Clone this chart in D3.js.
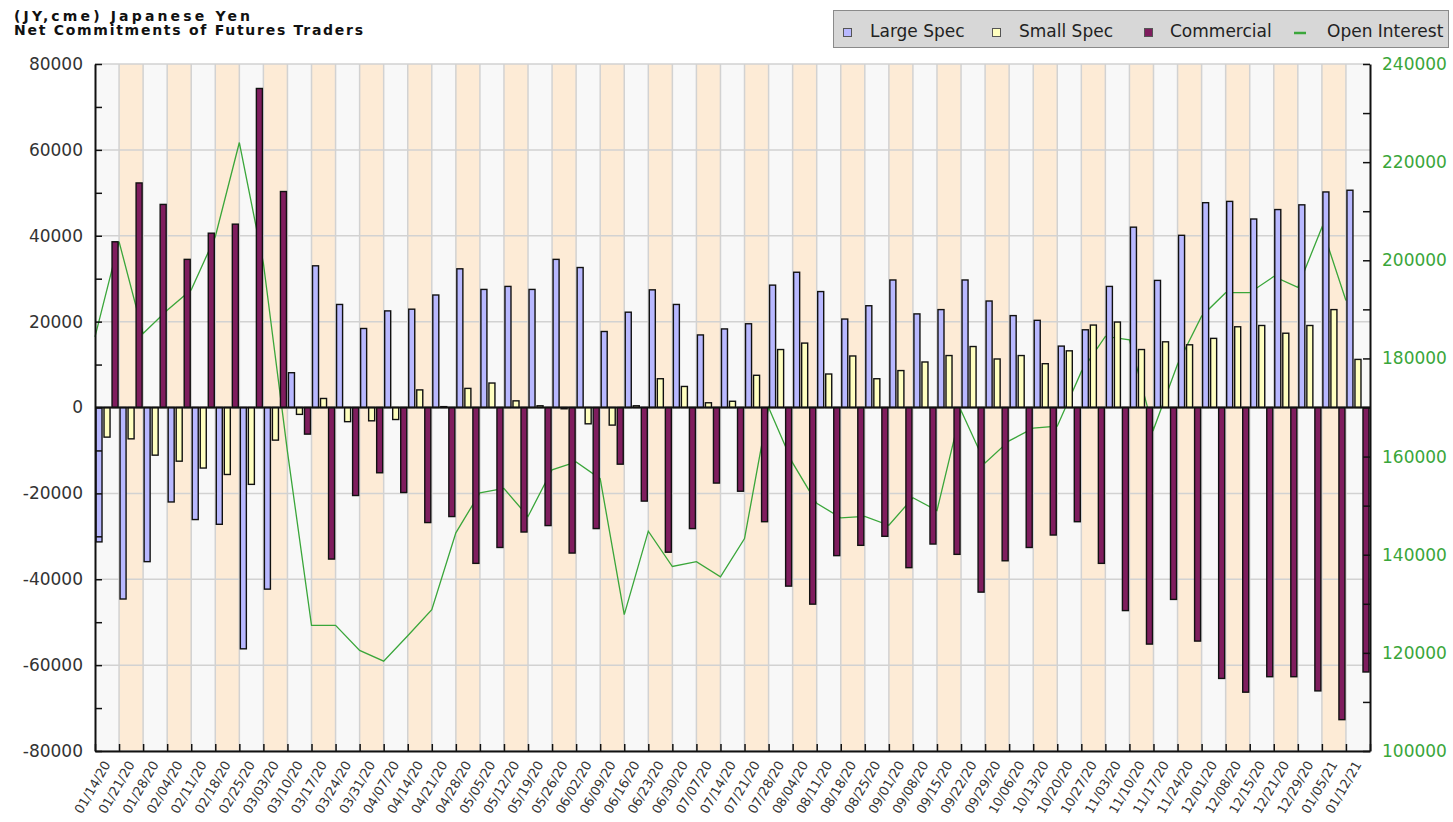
<!DOCTYPE html>
<html>
<head>
<meta charset="utf-8">
<script src="https://cdn.jsdelivr.net/npm/d3@7"></script>
<style>
  body { margin: 0; background: #fff; }
  svg { display: block; font-family: "DejaVu Sans", sans-serif; }
</style>
</head>
<body>
<svg id="chart" width="1453" height="822"></svg>
<script>
// weekly report dates
const dates = ["01/14/20","01/21/20","01/28/20","02/04/20","02/11/20","02/18/20","02/25/20","03/03/20","03/10/20","03/17/20",
  "03/24/20","03/31/20","04/07/20","04/14/20","04/21/20","04/28/20","05/05/20","05/12/20","05/19/20","05/26/20",
  "06/02/20","06/09/20","06/16/20","06/23/20","06/30/20","07/07/20","07/14/20","07/21/20","07/28/20","08/04/20",
  "08/11/20","08/18/20","08/25/20","09/01/20","09/08/20","09/15/20","09/22/20","09/29/20","10/06/20","10/13/20",
  "10/20/20","10/27/20","11/03/20","11/10/20","11/17/20","11/24/20","12/01/20","12/08/20","12/15/20","12/21/20",
  "12/29/20","01/05/21","01/12/21"];

const largeSpec = [-31300,-44600,-35900,-22000,-26100,-27200,-56200,-42300,8100,33000,
  24000,18400,22500,22900,26200,32300,27500,28200,27500,34500,
  32600,17700,22200,27400,24000,16900,18300,19500,28500,31500,
  27000,20600,23700,29700,21800,22800,29700,24800,21400,20300,
  14300,18100,28200,42000,29600,40100,47700,48000,43900,46100,
  47200,50200,50600];

const smallSpec = [-6900,-7300,-11100,-12500,-14100,-15600,-17900,-7600,-1600,2100,
  -3300,-3100,-2800,4100,200,4450,5700,1550,400,-300,
  -3800,-4100,400,6700,4900,1100,1450,7500,13500,15000,
  7800,12000,6700,8600,10600,12100,14200,11300,12100,10200,
  13200,19200,19900,13500,15300,14600,16100,18800,19100,17300,
  19100,22800,11200];

const commercial = [38600,52300,47300,34500,40600,42700,74300,50300,-6200,-35300,
  -20500,-15200,-19800,-26800,-25400,-36300,-32600,-29000,-27500,-33900,
  -28200,-13200,-21800,-33700,-28200,-17600,-19500,-26600,-41600,-45800,
  -34500,-32100,-30000,-37300,-31800,-34200,-43000,-35700,-32600,-29700,
  -26600,-36300,-47300,-55100,-44700,-54400,-63100,-66300,-62700,-62700,
  -66000,-72700,-61600];

const openInterest = [184400,203800,185100,189800,194000,204800,224000,199400,161000,125600,
  125600,120500,118300,123500,128800,144450,152600,153500,147800,157300,
  158900,155500,127800,144800,137600,138600,135500,143300,170000,158700,
  150500,147500,147800,146000,151600,149000,169400,158700,163200,165800,
  166200,177300,184500,183800,165500,178800,188600,193400,193400,196700,
  194500,206700,191800];

const seriesNames = ["Large Spec", "Small Spec", "Commercial"];
const seriesColors = ["#b8b8ff", "#ffffc0", "#7f1d5e"];
const lineColor = "#3aa63a";

const m = { left: 95, right: 1370, top: 64, bottom: 751 };
const svg = d3.select("#chart");

const x = d3.scaleBand().domain(dates).range([m.left, m.right]).paddingInner(0).paddingOuter(0);
const xSub = d3.scaleBand().domain(seriesNames).range([1, x.bandwidth() - 1]).paddingInner(0.25).paddingOuter(0);
const xIdx = d3.scaleLinear().domain([0, dates.length]).range([m.left, m.right]);
const yL = d3.scaleLinear().domain([-80000, 80000]).range([m.bottom, m.top]);
const yR = d3.scaleLinear().domain([100000, 240000]).range([m.bottom, m.top]);

// alternating column shading
svg.append("g").selectAll("rect").data(dates).join("rect")
  .attr("x", d => x(d)).attr("y", m.top)
  .attr("width", x.bandwidth()).attr("height", m.bottom - m.top)
  .attr("fill", (d, i) => i % 2 ? "#fdebd6" : "#f8f8f8");

// grid
const grid = svg.append("g").attr("stroke", "#d2d2d2").attr("stroke-width", 1.5);
grid.selectAll("line.h").data(d3.range(-80000, 80001, 20000)).join("line").attr("class", "h")
  .attr("x1", m.left).attr("x2", m.right).attr("y1", d => yL(d)).attr("y2", d => yL(d));
grid.selectAll("line.v").data(d3.range(1, dates.length)).join("line").attr("class", "v")
  .attr("x1", d => xIdx(d)).attr("x2", d => xIdx(d)).attr("y1", m.top).attr("y2", m.bottom);

// open interest line (sits behind the bars)
const line = d3.line().x((d, i) => x(dates[i])).y(d => yR(d));
svg.append("path").datum(openInterest)
  .attr("d", line).attr("fill", "none").attr("stroke", lineColor).attr("stroke-width", 1.3);

// bars
const rows = dates.map((d, i) => ({ date: d, vals: [largeSpec[i], smallSpec[i], commercial[i]] }));
const groups = svg.append("g").selectAll("g").data(rows).join("g")
  .attr("transform", d => `translate(${x(d.date)},0)`);
groups.selectAll("rect").data(d => d.vals.map((v, k) => ({ k, v }))).join("rect")
  .attr("x", d => xSub(seriesNames[d.k]))
  .attr("width", xSub.bandwidth())
  .attr("y", d => yL(Math.max(0, d.v)))
  .attr("height", d => Math.abs(yL(d.v) - yL(0)))
  .attr("fill", d => seriesColors[d.k])
  .attr("stroke", "#111").attr("stroke-width", 1.4);

// zero line
svg.append("line").attr("x1", m.left).attr("x2", m.right).attr("y1", yL(0)).attr("y2", yL(0))
  .attr("stroke", "#111").attr("stroke-width", 2);

// left axis
const leftAxis = svg.append("g").attr("transform", `translate(${m.left},0)`)
  .call(d3.axisLeft(yL).tickValues(d3.range(-80000, 80001, 10000))
    .tickSizeInner(-7).tickSizeOuter(0).tickPadding(12)
    .tickFormat(d => d % 20000 === 0 ? d : ""));
leftAxis.selectAll("text").attr("font-size", 17).attr("fill", "#333").attr("font-family", "DejaVu Sans");

// right axis
const rightAxis = svg.append("g").attr("transform", `translate(${m.right},0)`)
  .call(d3.axisRight(yR).tickValues(d3.range(100000, 240001, 10000))
    .tickSizeInner(-7).tickSizeOuter(0).tickPadding(12)
    .tickFormat(d => d % 20000 === 0 ? d : ""));
rightAxis.selectAll("text").attr("font-size", 17).attr("fill", lineColor).attr("font-family", "DejaVu Sans");

// bottom axis, ticks on column edges
const bottomAxis = svg.append("g").attr("transform", `translate(0,${m.bottom})`)
  .call(d3.axisBottom(xIdx).tickValues(d3.range(0, dates.length + 1))
    .tickSizeInner(-7).tickSizeOuter(0).tickFormat(""));

[leftAxis, rightAxis, bottomAxis].forEach(g => {
  g.select(".domain").attr("stroke", "#111").attr("stroke-width", 2);
  g.selectAll(".tick line").attr("stroke", "#111").attr("stroke-width", 1.5);
});

// date labels
svg.append("g").selectAll("text").data(dates).join("text")
  .attr("transform", d => `translate(${x(d) + x.bandwidth() / 2},${m.bottom + 11}) rotate(-60)`)
  .attr("text-anchor", "end").attr("dy", "0.35em")
  .attr("font-size", 13).attr("fill", "#333")
  .text(d => d);

// title
const title = svg.append("g").attr("font-weight", "bold").attr("font-size", 14).attr("fill", "#111");
title.append("text").attr("x", 14).attr("y", 21).attr("textLength", 236).attr("lengthAdjust", "spacing")
  .text("(JY,cme) Japanese Yen");
title.append("text").attr("x", 14).attr("y", 35).attr("textLength", 349).attr("lengthAdjust", "spacing")
  .text("Net Commitments of Futures Traders");

// legend
const lg = svg.append("g");
lg.append("rect").attr("x", 833.5).attr("y", 10.5).attr("width", 615).attr("height", 37)
  .attr("fill", "#d7d7d7").attr("stroke", "#8a8a8a");
const legendItems = [
  { name: "Large Spec", color: seriesColors[0], sx: 843, tx: 870 },
  { name: "Small Spec", color: seriesColors[1], sx: 992, tx: 1019 },
  { name: "Commercial", color: seriesColors[2], sx: 1144, tx: 1170 },
  { name: "Open Interest", color: lineColor, sx: 1294, tx: 1327, line: true }
];
legendItems.forEach(it => {
  if (it.line) {
    lg.append("line").attr("x1", it.sx).attr("x2", it.sx + 12).attr("y1", 33).attr("y2", 33)
      .attr("stroke", it.color).attr("stroke-width", 2.5);
  } else {
    lg.append("rect").attr("x", it.sx + 0.5).attr("y", 28.5).attr("width", 8).attr("height", 8)
      .attr("fill", it.color).attr("stroke", "#555");
  }
  lg.append("text").attr("x", it.tx).attr("y", 37).attr("font-size", 17).attr("fill", "#222").text(it.name);
});
</script>
</body>
</html>
